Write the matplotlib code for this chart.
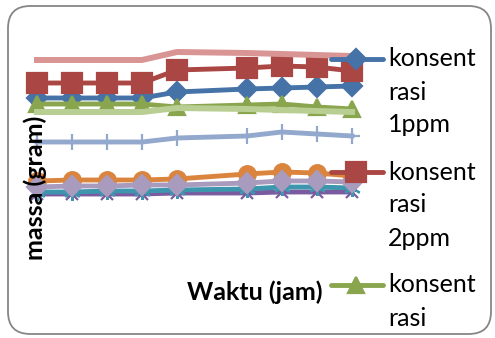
import matplotlib
matplotlib.use("Agg")
import matplotlib.pyplot as plt
from matplotlib.lines import Line2D
from matplotlib.patches import FancyBboxPatch

plt.rcParams["font.family"] = ["Lato", "DejaVu Sans"]

W, H = 495, 338

# waktu (jam) and massa (gram) per series
waktu = [0, 1, 2, 3, 4, 6, 7, 8, 9]
konsentrasi_1ppm = [15.2, 15.2, 15.2, 15.2, 15.8, 16.1, 16.2, 16.3, 16.4]
konsentrasi_2ppm = [16.7, 16.7, 16.7, 16.7, 18.0, 18.2, 18.4, 18.3, 17.9]
konsentrasi_3ppm = [14.6, 14.6, 14.6, 14.6, 14.3, 14.5, 14.6, 14.3, 14.1]
seri_4 = [5.6, 5.6, 5.6, 5.6, 5.7, 5.7, 5.8, 5.8, 5.8]
seri_5 = [5.8, 5.8, 5.9, 5.9, 6.0, 6.1, 6.3, 6.3, 6.2]
seri_6 = [6.9, 7.0, 7.0, 7.0, 7.1, 7.6, 7.8, 7.7, 7.4]
seri_7 = [10.8, 10.8, 10.8, 10.8, 11.2, 11.4, 11.8, 11.6, 11.4]
seri_8 = [6.3, 6.4, 6.4, 6.5, 6.5, 6.7, 6.9, 6.9, 6.8]
seri_9 = [19.0, 19.0, 19.0, 19.0, 19.8, 19.7, 19.6, 19.5, 19.4]
seri_10 = [13.8, 13.8, 13.8, 13.8, 14.2, 14.1, 14.0, 13.9, 13.8]

# legend text as it wraps in the (overflowing) legend box
legend_lines = [
    ["konsent", "rasi", "1ppm"],
    ["konsent", "rasi", "2ppm"],
    ["konsent", "rasi"],
]


def fx(px):
    return px / W


def fy(py):
    return 1 - py / H


fig = plt.figure(figsize=(W / 100, H / 100), dpi=100, facecolor="white")

# chart frame
frame = FancyBboxPatch(
    (fx(8), fy(334)), fx(491) - fx(8), fy(6) - fy(334),
    boxstyle="round,pad=0,rounding_size=0.045",
    transform=fig.transFigure, facecolor="none", edgecolor="#868686", linewidth=1.3,
    mutation_aspect=W / H, zorder=-1,
)
fig.patches.append(frame)

ax = fig.add_axes([fx(25), fy(250), fx(365) - fx(25), fy(40) - fy(250)])
ax.set_xlim((25 - 37) / 35, (365 - 37) / 35)
ax.set_ylim(0, 21)
ax.axis("off")

asterisk = (6, 2, 0)
series = [
    (konsentrasi_1ppm, "#4572A7", "D", 10, 3.5),
    (konsentrasi_2ppm, "#AA4643", "s", 14, 3.5),
    (konsentrasi_3ppm, "#89A54E", "^", 11, 3.5),
    (seri_4, "#7B5BA0", "x", 9, 3.5),
    (seri_5, "#3D96AE", asterisk, 12, 3.5),
    (seri_6, "#DB843D", "o", 12, 3.5),
    (seri_7, "#92A8CD", "+", 11, 3.5),
    (seri_8, "#A99BBD", "D", 10, 3.5),
    (seri_9, "#D99594", None, 0, 4.3),
    (seri_10, "#B9CE93", None, 0, 4.3),
]

for vals, color, marker, ms, lw in series:
    ax.plot(waktu, vals, color=color, linewidth=lw, marker=marker, markersize=ms,
            markeredgewidth=1.6, markerfacecolor=color, markeredgecolor=color,
            solid_joinstyle="round", clip_on=False)

# axis titles
fig.text(fx(35), fy(188), "massa (gram)", rotation=90, fontsize=18, fontweight="bold",
         ha="center", va="center")
fig.text(fx(255), fy(292), "Waktu (jam)", fontsize=18, fontweight="bold",
         ha="center", va="center")

# legend (overflowing, as in the original)
legend_y = [59, 172, 285]
for i, (lines, y) in enumerate(zip(legend_lines, legend_y)):
    vals, color, marker, ms, lw = series[i]
    fig.add_artist(Line2D([fx(331), fx(383)], [fy(y), fy(y)], color=color, linewidth=lw,
                          solid_capstyle="round", transform=fig.transFigure))
    fig.add_artist(Line2D([fx(356)], [fy(y)], marker=marker, markersize=ms, color=color,
                          markeredgewidth=1.6, transform=fig.transFigure))
    for j, txt in enumerate(lines):
        fig.text(fx(388), fy(y + 33 * j), txt, fontsize=18, ha="left", va="center",
                 color="#000000")

fig.savefig("out.png", dpi=100, facecolor="white")
